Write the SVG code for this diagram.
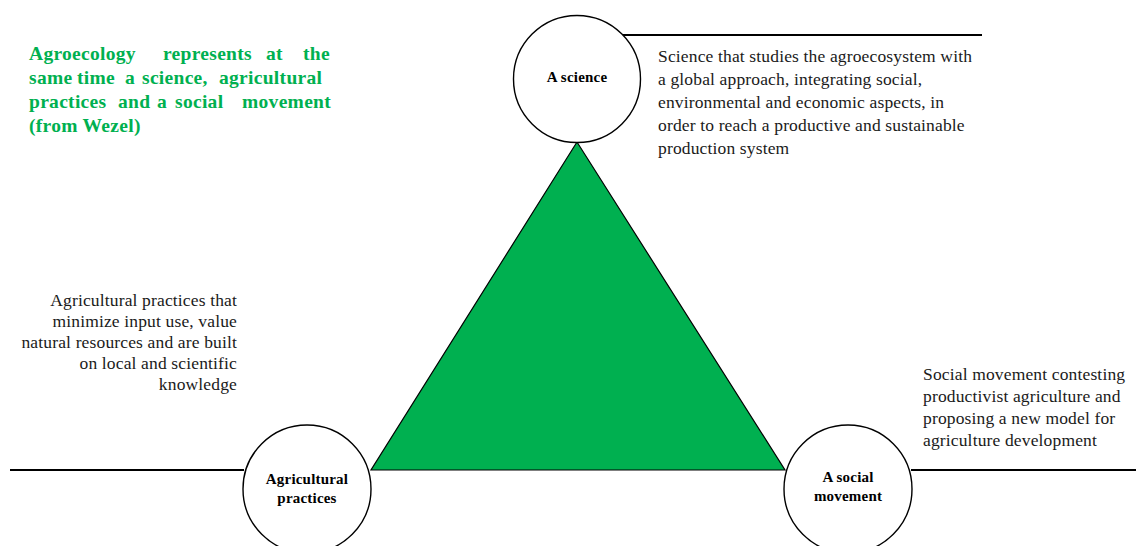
<svg xmlns="http://www.w3.org/2000/svg" width="1136" height="546" viewBox="0 0 1136 546">
<style>
.node{fill:#fff;stroke:#000;stroke-width:1.4}
.conn{stroke:#000;stroke-width:2;fill:none}
.lbl{font-family:"Liberation Serif","DejaVu Serif",serif;font-weight:bold;font-size:15px;letter-spacing:0.2px;fill:#000;text-anchor:middle}
.desc{font-family:"Liberation Serif","DejaVu Serif",serif;font-size:17.5px;letter-spacing:0.15px;fill:#1a1a1a}
.title{font-family:"Liberation Serif","DejaVu Serif",serif;font-weight:bold;font-size:19.5px;letter-spacing:0.3px;fill:#00B050}
</style>
<rect width="1136" height="546" fill="#fff"/>
<g id="connectors">
<line class="conn" x1="623" y1="35" x2="982" y2="35"/>
<line class="conn" x1="10" y1="470" x2="244" y2="470"/>
<line class="conn" x1="911" y1="470" x2="1136" y2="470"/>
</g>
<g id="triangle">
<polygon points="577,142 371,470 785,470" fill="#00B050" stroke="#000" stroke-width="1.2"/>
</g>
<g id="node-science">
<circle class="node" cx="577" cy="79" r="63.5"/>
<text class="lbl" x="577" y="82">A science</text>
</g>
<g id="node-practices">
<circle class="node" cx="307" cy="489" r="64"/>
<text class="lbl" x="307" y="484">Agricultural</text>
<text class="lbl" x="307" y="503">practices</text>
</g>
<g id="node-movement">
<circle class="node" cx="848" cy="489" r="64"/>
<text class="lbl" x="848" y="482">A social</text>
<text class="lbl" x="848" y="501">movement</text>
</g>
<g id="title">
<text class="title" y="60"><tspan x="29">Agroecology</tspan><tspan x="163">represents</tspan><tspan x="266">at</tspan><tspan x="303">the</tspan></text>
<text class="title" y="84"><tspan x="29">same</tspan><tspan x="77">time</tspan><tspan x="125">a</tspan><tspan x="142">science,</tspan><tspan x="219">agricultural</tspan></text>
<text class="title" y="108"><tspan x="29">practices</tspan><tspan x="118">and</tspan><tspan x="157">a</tspan><tspan x="175">social</tspan><tspan x="242">movement</tspan></text>
<text class="title" x="29" y="132">(from Wezel)</text>
</g>
<g id="desc-science">
<text class="desc" x="658" y="62">Science that studies the agroecosystem with</text>
<text class="desc" x="658" y="85">a global approach, integrating social,</text>
<text class="desc" x="658" y="108">environmental and economic aspects, in</text>
<text class="desc" x="658" y="131">order to reach a productive and sustainable</text>
<text class="desc" x="658" y="154">production system</text>
</g>
<g id="desc-practices" text-anchor="end">
<text class="desc" x="237" y="306">Agricultural practices that</text>
<text class="desc" x="237" y="327">minimize input use, value</text>
<text class="desc" x="237" y="348">natural resources and are built</text>
<text class="desc" x="237" y="369">on local and scientific</text>
<text class="desc" x="237" y="390">knowledge</text>
</g>
<g id="desc-movement">
<text class="desc" x="923" y="380">Social movement contesting</text>
<text class="desc" x="923" y="402">productivist agriculture and</text>
<text class="desc" x="923" y="424">proposing a new model for</text>
<text class="desc" x="923" y="446">agriculture development</text>
</g>
</svg>
